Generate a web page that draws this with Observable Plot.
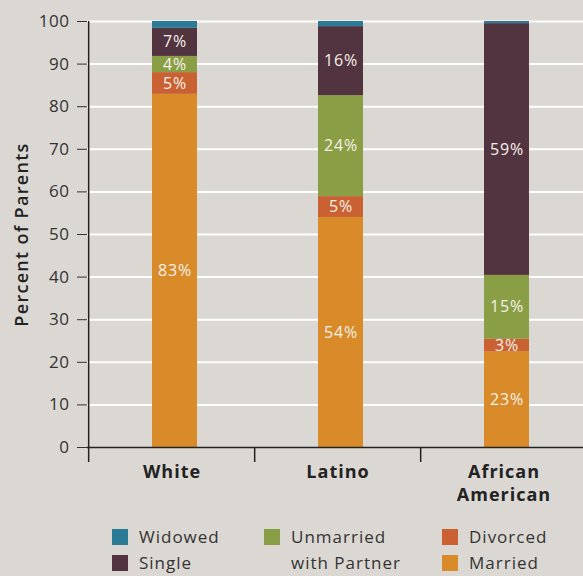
<!DOCTYPE html>
<html>
<head>
<meta charset="utf-8">
<script src="https://cdn.jsdelivr.net/npm/d3@7"></script>
<script src="https://cdn.jsdelivr.net/npm/@observablehq/plot@0.6"></script>
<style>
  html, body { margin: 0; padding: 0; background: #dbd7d2; }
  body { width: 583px; height: 576px; overflow: hidden; font-family: "Open Sans", sans-serif; }
  #legend { position: relative; height: 61px; color: #333; font-size: 17px; letter-spacing: 1px; }
  .sw { position: absolute; width: 16px; height: 16px; }
  .lt { position: absolute; line-height: 26px; white-space: pre; }
  #chart g[aria-label="y-axis label"] text { letter-spacing: 1.3px; }
  #chart g[aria-label="x-axis tick label"] text { letter-spacing: 1px; }
  #chart g[aria-label="y-axis tick label"] text { letter-spacing: 0.5px; }
  #chart g[aria-label="text"] text { letter-spacing: 0.8px; }
</style>
</head>
<body>
<div id="chart"></div>
<div id="legend"></div>
<script>
const categories = ["White", "Latino", "African American"];
const statuses = ["Married", "Divorced", "Unmarried with Partner", "Single", "Widowed"];
const married   = [82.9, 54.0, 22.5];
const divorced  = [5.1, 4.9, 2.9];
const unmarried = [3.8, 23.7, 15.0];
const single    = [6.6, 16.2, 59.1];
const widowed   = [1.6, 1.2, 0.5];
const colors = ["#d88b28", "#c96132", "#8a9e45", "#523340", "#2b7b97"];
const yTicks = [0, 10, 20, 30, 40, 50, 60, 70, 80, 90, 100];
const categoryLabels = {"White": "White", "Latino": "Latino", "African American": "African\nAmerican"};

const series = [married, divorced, unmarried, single, widowed];
const rows = [];
categories.forEach((c, i) => statuses.forEach((s, j) => rows.push({category: c, status: s, value: series[j][i]})));

const W = 583, H = 515;
const xRange = [87, 587];
const step = (xRange[1] - xRange[0]) / categories.length;

const chart = Plot.plot({
  width: W, height: H,
  marginTop: 21, marginLeft: 87, marginRight: 0, marginBottom: 68,
  style: {background: "#dbd7d2", fontFamily: "Open Sans, sans-serif"},
  x: {domain: categories, range: xRange, paddingInner: 0.73, paddingOuter: 0.365},
  y: {domain: [0, 100]},
  color: {domain: statuses, range: colors},
  marks: [
    Plot.ruleY(yTicks.filter(d => d > 0), {stroke: "white", strokeWidth: 2}),
    Plot.barY(rows, Plot.stackY({x: "category", y: "value", fill: "status", z: "status", order: statuses, dx: 3})),
    Plot.text(rows, Plot.stackY({
      x: "category", y: "value", z: "status", order: statuses,
      filter: d => d.status !== "Widowed",
      text: d => Math.round(d.value) + "%",
      fill: "#f6f1e8", fontSize: 16, dx: 3
    })),
    Plot.ruleY([0], {stroke: "#222", strokeWidth: 1.5}),
    Plot.ruleX(categories.slice(0, 1), {x: d => d, dx: -step / 2, stroke: "#222", strokeWidth: 1.5}),
    Plot.axisX({tickSize: 15, dx: -step / 2, stroke: "#222", strokeWidth: 1.5, tickFormat: () => "", label: null}),
    Plot.axisY({ticks: yTicks, tickSize: 10, tickPadding: 8, fontSize: 17, color: "#333", label: null}),
    Plot.axisY({ticks: [], label: "Percent of Parents", labelAnchor: "center", labelArrow: "none", labelOffset: 72, fontSize: 18, fontWeight: 600, color: "#222"}),
    Plot.axisX({tickSize: 0, tickPadding: 15, fontSize: 18, fontWeight: 700, color: "#222", lineHeight: 1.25, label: null, tickFormat: d => categoryLabels[d]})
  ]
});
document.getElementById("chart").appendChild(chart);

// legend
const legendItems = [
  {status: "Widowed", col: 0, row: 0},
  {status: "Single", col: 0, row: 1},
  {status: "Unmarried with Partner", text: "Unmarried\nwith Partner", col: 1, row: 0},
  {status: "Divorced", col: 2, row: 0},
  {status: "Married", col: 2, row: 1}
];
const colX = [112, 264, 442];
const leg = document.getElementById("legend");
legendItems.forEach(it => {
  const sw = document.createElement("div");
  sw.className = "sw";
  sw.style.left = colX[it.col] + "px";
  sw.style.top = (14 + it.row * 26) + "px";
  sw.style.background = colors[statuses.indexOf(it.status)];
  leg.appendChild(sw);
  const t = document.createElement("div");
  t.className = "lt";
  t.style.left = (colX[it.col] + 27) + "px";
  t.style.top = (9 + it.row * 26) + "px";
  t.textContent = it.text || it.status;
  leg.appendChild(t);
});
</script>
</body>
</html>
